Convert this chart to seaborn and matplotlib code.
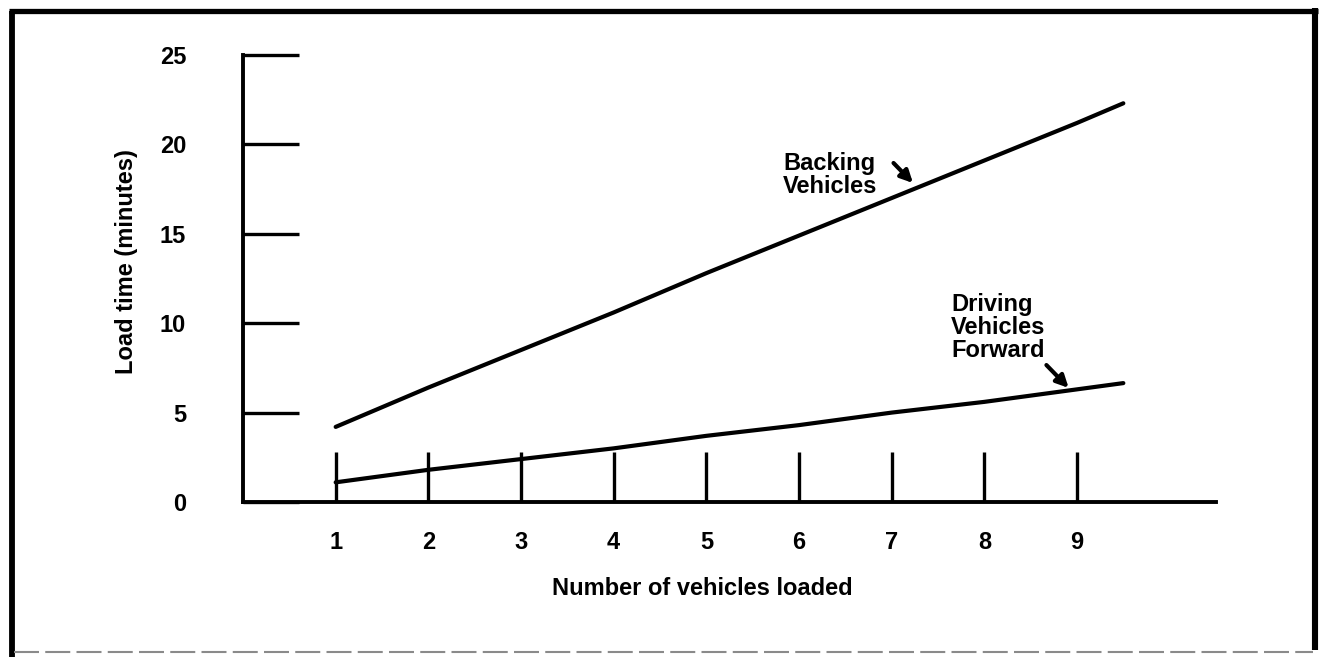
import matplotlib
matplotlib.use("Agg")
import matplotlib.pyplot as plt
from matplotlib.lines import Line2D
import seaborn as sns
import pandas as pd

# Load time versus number of vehicles loaded
vehicles = [1, 2, 3, 4, 5, 6, 7, 8, 9, 9.5]
backing_minutes = [4.2, 6.4, 8.5, 10.6, 12.8, 14.9, 17.0, 19.1, 21.2, 22.3]
forward_minutes = [1.1, 1.8, 2.4, 3.0, 3.7, 4.3, 5.0, 5.6, 6.3, 6.65]

x_ticks = [1, 2, 3, 4, 5, 6, 7, 8, 9]
y_ticks = [0, 5, 10, 15, 20, 25]

df = pd.DataFrame({
    "vehicles": vehicles * 2,
    "minutes": backing_minutes + forward_minutes,
    "method": ["Backing Vehicles"] * len(vehicles)
              + ["Driving Vehicles Forward"] * len(vehicles),
})

sns.set_style("white")
plt.rcParams["font.family"] = ["Liberation Sans", "DejaVu Sans"]
plt.rcParams["text.color"] = "black"
plt.rcParams["axes.labelcolor"] = "black"
plt.rcParams["xtick.color"] = "black"
plt.rcParams["ytick.color"] = "black"

W, H = 1320, 657
fig = plt.figure(figsize=(W / 100, H / 100), dpi=100)
ax = fig.add_axes([243 / W, 1 - 502 / H, 973 / W, 447 / H])

sns.lineplot(data=df, x="vehicles", y="minutes", units="method",
             estimator=None, color="black", linewidth=3.0, ax=ax,
             legend=False)

ax.set_xlim(0, 10.5)
ax.set_ylim(0, 25)
ax.set_xticks(x_ticks)
ax.set_yticks(y_ticks)
ax.set_xticklabels([str(t) for t in x_ticks], fontsize=17, fontweight="bold")
ax.set_yticklabels([str(t) for t in y_ticks], fontsize=17, fontweight="bold")

ax.tick_params(axis="x", which="major", bottom=True, direction="in",
               length=36, width=2.4, color="black", pad=21)
ax.tick_params(axis="y", which="major", left=True, direction="in",
               length=40, width=2.4, color="black", pad=41)

for side in ("top", "right"):
    ax.spines[side].set_visible(False)
for side in ("left", "bottom"):
    ax.spines[side].set_linewidth(2.8)
    ax.spines[side].set_color("black")

ax.set_xlabel("Number of vehicles loaded", fontsize=17, fontweight="bold")
ax.set_ylabel("Load time (minutes)", fontsize=17, fontweight="bold")
ax.xaxis.set_label_coords(0.4717, -0.168)
ax.yaxis.set_label_coords(-0.108, 0.537)

# Series annotations with short arrows
ax.text(5.83, 19.55, "Backing\nVehicles", fontsize=17, fontweight="bold",
        ha="left", va="top", linespacing=1.0)
ax.annotate("", xy=(7.23, 17.84), xytext=(7.02, 18.96),
            arrowprops=dict(arrowstyle="-|>", color="black", lw=3,
                            mutation_scale=18, shrinkA=0, shrinkB=0))

ax.text(7.64, 11.7, "Driving\nVehicles\nForward", fontsize=17,
        fontweight="bold", ha="left", va="top", linespacing=1.0)
ax.annotate("", xy=(8.91, 6.38), xytext=(8.67, 7.66),
            arrowprops=dict(arrowstyle="-|>", color="black", lw=3,
                            mutation_scale=18, shrinkA=0, shrinkB=0))

# Outer frame around the figure
def px_line(x0, y0, x1, y1, **kw):
    fig.add_artist(Line2D([x0 / W, x1 / W], [1 - y0 / H, 1 - y1 / H],
                          transform=fig.transFigure, **kw))

px_line(11.5, 10.5, 11.5, 657, color="black", lw=4.2, solid_capstyle="butt")
px_line(9, 10.5, 1318, 10.5, color="black", lw=3.8, solid_capstyle="butt")
px_line(1315, 8, 1315, 650, color="black", lw=4.4, solid_capstyle="butt")
px_line(14, 652, 1313, 652, color="#8a8a8a", lw=1.5,
        linestyle=(0, (12, 3)))

fig.savefig("out.png", dpi=100)
